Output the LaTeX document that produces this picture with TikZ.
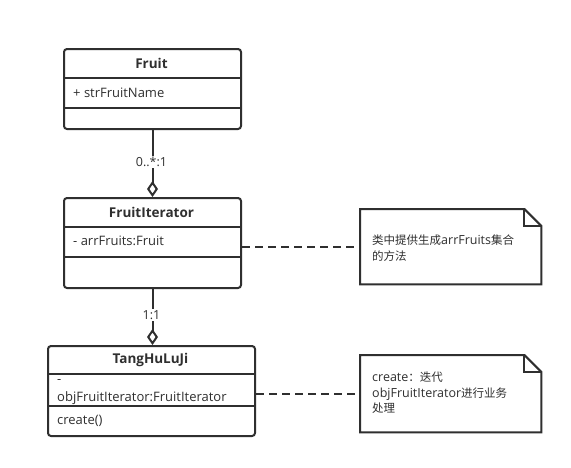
\documentclass[tikz,border=0pt]{standalone}
\usepackage{fontspec}
\setmainfont{Open Sans}
\newfontfamily\cjk{Noto Sans CJK SC}
\newcommand\zh[1]{{\cjk\fontsize{11.5}{15.5}\selectfont #1}}
\usetikzlibrary{arrows.meta,calc}
\definecolor{ink}{HTML}{2F2F2F}
\begin{document}
\begin{tikzpicture}[x=1pt,y=-1pt,
  cls/.style={draw=ink, line width=2pt, rounded corners=3pt, fill=white, inner sep=0pt, anchor=north west},
  rule/.style={draw=ink, line width=2pt},
  txt/.style={inner sep=0pt, anchor=west, font=\fontsize{13}{14}\selectfont, text=ink},
  ctitle/.style={inner sep=0pt, font=\fontsize{13.5}{14}\selectfont\bfseries, text=ink},
  mult/.style={fill=white, inner sep=1pt, font=\fontsize{12.5}{14}\selectfont, text=ink},
  agg/.style={draw=ink, line width=2pt, -{Diamond[open, length=16pt, width=11pt]}},
  noteline/.style={draw=ink, line width=2pt, dash pattern=on 8pt off 5pt},
  notebox/.style={inner sep=0pt, anchor=north west},
  notetext/.style={inner sep=0pt, anchor=west, align=left, text=ink, font=\fontsize{12.5}{15.5}\selectfont},
]
% canvas
\path[fill=white] (0,0) rectangle (571,467);

% class Fruit
\node[cls, minimum width=177pt, minimum height=80pt] (fruit) at (63,48) {};
\draw[rule] (63,78) -- (240,78);
\draw[rule] (63,108) -- (240,108);
\node[ctitle] (fruitname) at (151.5,63) {Fruit};
\node[txt] (fruitattr) at (73,93) {+ strFruitName};

% class FruitIterator
\node[cls, minimum width=177pt, minimum height=90pt] (fi) at (63,197) {};
\draw[rule] (63,227) -- (240,227);
\draw[rule] (63,257) -- (240,257);
\node[ctitle] (finame) at (151.5,212) {FruitIterator};
\node[txt] (fiattr) at (73,241) {- arrFruits:Fruit};

% class TangHuLuJi
\node[cls, minimum width=207pt, minimum height=90pt] (th) at (47,345) {};
\draw[rule] (47,374) -- (254,374);
\draw[rule] (47,406) -- (254,406);
\node[ctitle] (thname) at (150.5,360) {TangHuLuJi};
\node[txt] (thattr1) at (57,382) {-};
\node[txt] (thattr2) at (57,398) {objFruitIterator:FruitIterator};
\node[txt] (thop) at (57,421) {create()};

% aggregations
\draw[agg] (fruit.south) -- (fi.north);
\node[mult] (m1) at (151.5,162) {0..*:1};
\draw[agg] (fi.south) -- (fi.south |- th.north);
\node[mult] (m2) at (151.5,315) {1:1};

% notes
\node[notebox, minimum width=181pt, minimum height=75pt] (n1) at (360,209) {};
\draw[rule, line join=miter] (n1.north west) -- ($(n1.north east)+(-17,0)$) -- ($(n1.north east)+(0,17)$)
  -- (n1.south east) -- (n1.south west) -- cycle;
\draw[rule] ($(n1.north east)+(-17,0)$) -- ($(n1.north east)+(-17,17)$) -- ($(n1.north east)+(0,17)$);
\node[notetext] (n1text) at (372,248) {\zh{类中提供生成}arrFruits\zh{集合}\\\zh{的方法}};

\node[notebox, minimum width=181pt, minimum height=77pt] (n2) at (360,355) {};
\draw[rule, line join=miter] (n2.north west) -- ($(n2.north east)+(-17,0)$) -- ($(n2.north east)+(0,17)$)
  -- (n2.south east) -- (n2.south west) -- cycle;
\draw[rule] ($(n2.north east)+(-17,0)$) -- ($(n2.north east)+(-17,17)$) -- ($(n2.north east)+(0,17)$);
\node[notetext] (n2text) at (372,393) {create\zh{：迭代}\\objFruitIterator\zh{进行业务}\\\zh{处理}};

% note links
\draw[noteline] (n1.west -| fi.east) -- (n1.west);
\draw[noteline] (n2.west -| th.east) -- (n2.west);
\end{tikzpicture}
\end{document}
